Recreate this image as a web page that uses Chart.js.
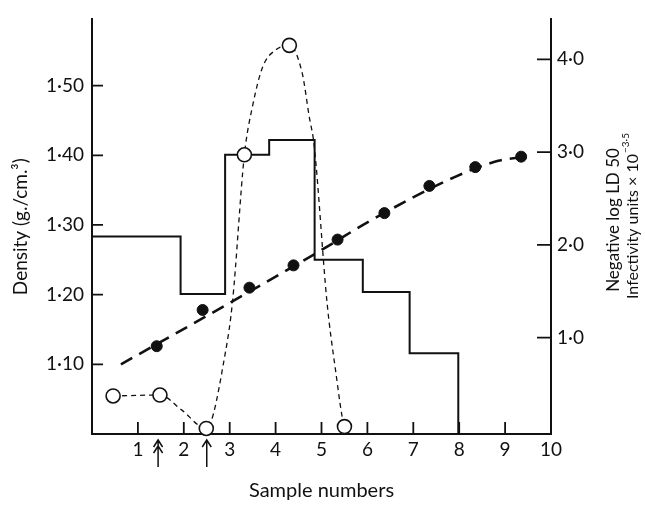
<!DOCTYPE html>
<html>
<head>
<meta charset="utf-8">
<script src="https://cdn.jsdelivr.net/npm/chart.js@4/dist/chart.umd.min.js"></script>
<style>
  body { margin: 0; background: #fff; }
  #wrap { width: 645px; height: 506px; }
</style>
</head>
<body>
<div id="wrap"><canvas id="density-chart"></canvas></div>
<script>
var sampleTicks = [1, 2, 3, 4, 5, 6, 7, 8, 9, 10];
var sampleTickLabels = ["1", "2", "3", "4", "5", "6", "7", "8", "9", "10"];
var densityTicks = [1.10, 1.20, 1.30, 1.40, 1.50];
var densityTickLabels = ["1·10", "1·20", "1·30", "1·40", "1·50"];
var infectTicks = [1, 2, 3, 4];
var infectTickLabels = ["1·0", "2·0", "3·0", "4·0"];

// density of the fractions (filled circles) and the gradient line drawn through them
var densityX = [1.41, 2.41, 3.43, 4.39, 5.35, 6.37, 7.35, 8.35, 9.35];
var densityY = [1.126, 1.178, 1.210, 1.242, 1.279, 1.317, 1.356, 1.383, 1.398];
var gradientX = [0.63, 3.05, 5.05, 6.06, 7.91, 8.85, 9.5];
var gradientY = [1.100, 1.190, 1.266, 1.306, 1.369, 1.392, 1.398];

// negative log LD50 histogram: left edge of each step and its level
var ldEdges = [0, 1.93, 2.90, 3.86, 4.85, 5.90, 6.92, 7.98];
var ldLevels = [2.09, 1.47, 2.97, 3.13, 1.84, 1.49, 0.83, -0.04];

// infectivity units (open circles) and the dashed curve drawn through them
var infectX = [0.46, 1.48, 2.49, 3.32, 4.30, 5.50];
var infectY = [0.37, 0.38, 0.02, 2.97, 4.15, 0.04];
var infectCurveX = [0.46, 1.48, 1.95, 2.49, 2.91, 3.06, 3.32, 3.50, 3.72, 4.00, 4.30, 4.58, 4.73, 4.84, 5.12, 5.30, 5.50, 5.66];
var infectCurveY = [0.37, 0.38, 0.22, 0.02, 0.85, 1.38, 2.97, 3.50, 3.92, 4.10, 4.15, 3.85, 3.39, 3.07, 1.38, 0.67, 0.04, -0.04];

// arrows under the sample axis
var arrowSamples = [1.44, 2.50];
var arrowHeads = [2, 1];

var ink = "#111";
var fontFamily = "Lato, 'Open Sans', sans-serif";

function pairs(xs, ys) {
  return xs.map(function (x, i) { return { x: x, y: ys[i] }; });
}

function fixTicks(values) {
  return function (scale) {
    scale.ticks = values.map(function (v) { return { value: v }; });
  };
}

var inwardTicks = {
  id: "inwardTicks",
  afterDatasetsDraw: function (chart) {
    var ctx = chart.ctx;
    var a = chart.chartArea;
    var sx = chart.scales.x, yl = chart.scales.yL, yr = chart.scales.yR;
    ctx.save();
    ctx.strokeStyle = ink;
    ctx.lineWidth = 1.8;
    ctx.beginPath();
    sampleTicks.forEach(function (v) {
      var px = sx.getPixelForValue(v);
      ctx.moveTo(px, a.bottom);
      ctx.lineTo(px, a.bottom - 12);
    });
    densityTicks.forEach(function (v) {
      var py = yl.getPixelForValue(v);
      ctx.moveTo(a.left, py);
      ctx.lineTo(a.left + 11, py);
    });
    infectTicks.forEach(function (v) {
      var py = yr.getPixelForValue(v);
      ctx.moveTo(a.right, py);
      ctx.lineTo(a.right - 14, py);
    });
    ctx.stroke();

    // arrows below the axis
    ctx.lineWidth = 1.5;
    arrowSamples.forEach(function (v, i) {
      var px = sx.getPixelForValue(v);
      var top = a.bottom + 6, end = a.bottom + 33;
      ctx.beginPath();
      ctx.moveTo(px, top);
      ctx.lineTo(px, end);
      for (var k = 0; k < arrowHeads[i]; k++) {
        var hy = top + k * 6;
        ctx.moveTo(px - 4.5, hy + 7);
        ctx.lineTo(px, hy);
        ctx.lineTo(px + 4.5, hy + 7);
      }
      ctx.stroke();
    });

    // right-hand titles, reading upwards
    ctx.fillStyle = ink;
    ctx.textAlign = "left";
    ctx.textBaseline = "middle";
    var cy = 216;
    ctx.save();
    ctx.translate(614, cy + 4);
    ctx.rotate(-Math.PI / 2);
    ctx.font = "17px " + fontFamily;
    var t1 = "Negative log LD 50";
    ctx.fillText(t1, -ctx.measureText(t1).width / 2, 0);
    ctx.restore();

    ctx.save();
    ctx.translate(633, cy);
    ctx.rotate(-Math.PI / 2);
    ctx.font = "16px " + fontFamily;
    var t2 = "Infectivity units × 10";
    var w2 = ctx.measureText(t2).width;
    ctx.font = "10px " + fontFamily;
    var t3 = "−3·5";
    var w3 = ctx.measureText(t3).width;
    var x0 = -(w2 + w3 + 1) / 2;
    ctx.font = "16px " + fontFamily;
    ctx.fillText(t2, x0, 0);
    ctx.font = "10px " + fontFamily;
    ctx.fillText(t3, x0 + w2 + 1, -7);
    ctx.restore();
    ctx.restore();
  }
};

new Chart("density-chart", {
  type: "line",
  data: {
    datasets: [{
      label: "Infectivity units",
      data: pairs(infectX, infectY),
      yAxisID: "yR",
      showLine: false,
      pointRadius: 7,
      pointBackgroundColor: "#fff",
      pointBorderColor: ink,
      pointBorderWidth: 1.6,
      clip: false
    }, {
      label: "Infectivity curve",
      data: pairs(infectCurveX, infectCurveY),
      yAxisID: "yR",
      borderColor: ink,
      borderWidth: 1.3,
      borderDash: [5, 4],
      cubicInterpolationMode: "monotone",
      pointRadius: 0,
      clip: false
    }, {
      label: "Density",
      data: pairs(densityX, densityY),
      yAxisID: "yL",
      showLine: false,
      pointRadius: 5.5,
      pointBackgroundColor: ink,
      pointBorderColor: ink,
      clip: false
    }, {
      label: "Gradient",
      data: pairs(gradientX, gradientY),
      yAxisID: "yL",
      borderColor: ink,
      borderWidth: 2.6,
      borderDash: [13, 8],
      cubicInterpolationMode: "monotone",
      pointRadius: 0
    }, {
      label: "Negative log LD50",
      data: pairs(ldEdges, ldLevels),
      yAxisID: "yR",
      stepped: "before",
      borderColor: ink,
      borderWidth: 2,
      pointRadius: 0,
      clip: false
    }]
  },
  options: {
    responsive: true,
    maintainAspectRatio: false,
    animation: false,
    events: [],
    layout: { padding: { top: 12, left: 0, right: 0, bottom: 0 } },
    plugins: {
      legend: { display: false },
      tooltip: { enabled: false }
    },
    scales: {
      x: {
        type: "linear",
        position: "bottom",
        min: 0,
        max: 10,
        afterBuildTicks: fixTicks(sampleTicks),
        afterFit: function (s) { s.height = 72; },
        grid: { display: false, drawTicks: false },
        border: { display: true, color: ink, width: 2 },
        ticks: {
          padding: 4,
          color: ink,
          font: { family: fontFamily, size: 19 },
          maxRotation: 0,
          callback: function (v) { return sampleTickLabels[sampleTicks.indexOf(v)]; }
        },
        title: {
          display: true,
          text: "Sample numbers",
          color: ink,
          font: { family: fontFamily, size: 20 },
          padding: { top: 0, bottom: 3 }
        }
      },
      yL: {
        type: "linear",
        position: "left",
        min: 1.0,
        max: 1.595,
        afterBuildTicks: fixTicks(densityTicks),
        afterFit: function (s) { s.width = 92; },
        grid: { display: false, drawTicks: false },
        border: { display: true, color: ink, width: 2 },
        ticks: {
          padding: 8,
          color: ink,
          font: { family: fontFamily, size: 19 },
          callback: function (v) { return densityTickLabels[densityTicks.indexOf(v)]; }
        },
        title: {
          display: true,
          text: "Density (g./cm.³)",
          color: ink,
          font: { family: fontFamily, size: 19 },
          padding: { top: 9, bottom: 0 }
        }
      },
      yR: {
        type: "linear",
        position: "right",
        min: -0.04,
        max: 4.43,
        afterBuildTicks: fixTicks(infectTicks),
        afterFit: function (s) { s.width = 94; },
        grid: { display: false, drawTicks: false },
        border: { display: true, color: ink, width: 2 },
        ticks: {
          padding: 6,
          color: ink,
          font: { family: fontFamily, size: 19 },
          callback: function (v) { return infectTickLabels[infectTicks.indexOf(v)]; }
        }
      }
    }
  },
  plugins: [inwardTicks]
});
</script>
</body>
</html>
